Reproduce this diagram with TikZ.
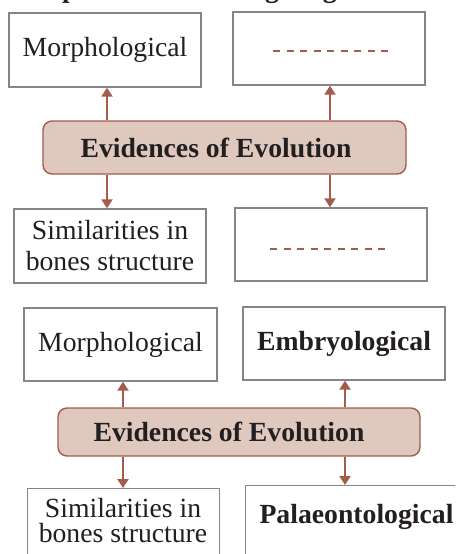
\documentclass[tikz,border=0pt]{standalone}
\usepackage{fontspec}
\setmainfont{Liberation Serif}
\usetikzlibrary{arrows.meta}
\definecolor{boxgray}{HTML}{858585}
\definecolor{rust}{HTML}{A35B4C}
\definecolor{blush}{HTML}{DFC9BF}
\definecolor{ink}{HTML}{231F20}
\tikzset{
  box/.style={draw=boxgray, line width=1.4pt, fill=white, rectangle, inner sep=0pt,
    text=ink, font=\fontsize{27.7}{31}\selectfont, align=center},
  boldbox/.style={box, font=\fontsize{27.7}{31}\selectfont\bfseries},
  evid/.style={draw=rust, line width=1.4pt, fill=blush, rounded corners=9pt,
    inner sep=0pt, text=ink, font=\fontsize{27.7}{31}\selectfont\bfseries},
  link/.style={draw=rust, line width=2.6pt, -{Triangle[length=9pt,width=11pt]}},
  blank/.style={draw=rust, line width=1.5pt, dash pattern=on 7.2pt off 6.3pt}
}
\begin{document}
\begin{tikzpicture}[x=1pt, y=-1pt]
\useasboundingbox (0,0) rectangle (455,554);
\clip (0,0) rectangle (455,554);

% heading line, mostly above the page edge
\node[anchor=base west, text=ink, inner sep=0pt,
  font=\fontsize{27.7}{31}\selectfont\bfseries] (title) at (5,-2) {Complete the following diagram};

% ---------- first diagram ----------
\node[box, minimum width=192pt, minimum height=74pt] (m1) at (105,50) {Morphological};
\node[box, minimum width=192pt, minimum height=73pt] (q1) at (329,48.5) {};
\node[evid, minimum width=363pt, minimum height=53pt] (e1) at (224.5,147.5) {Evidences of Evolution\kern17pt};
\node[box, minimum width=192pt, minimum height=74pt] (s1) at (110,246) {Similarities in\\bones structure};
\node[box, minimum width=192pt, minimum height=73pt] (q2) at (331,244.5) {};

\draw[blank] ([xshift=-56pt,yshift=-2.5pt]q1.center) -- ([xshift=61pt,yshift=-2.5pt]q1.center);
\draw[blank] ([xshift=-61pt,yshift=-4.5pt]q2.center) -- ([xshift=56pt,yshift=-4.5pt]q2.center);

\coordinate (L1) at (107,0);
\coordinate (R1) at (330,0);
\draw[link] (e1.north -| L1) -- (m1.south -| L1);
\draw[link] (e1.north -| R1) -- (q1.south -| R1);
\draw[link] (e1.south -| L1) -- (s1.north -| L1);
\draw[link] (e1.south -| R1) -- (q2.north -| R1);

% ---------- second diagram ----------
\node[box, minimum width=193pt, minimum height=73pt] (m2) at (120.5,344.5) {Morphological};
\node[boldbox, minimum width=202pt, minimum height=73pt] (em) at (344,343.5) {Embryological};
\node[evid, minimum width=362pt, minimum height=48pt] (e2) at (239,432) {Evidences of Evolution\kern20pt};
\node[box, anchor=north west, minimum width=192pt, minimum height=80pt] (s2) at (27,488) {};
\node[box, anchor=north west, minimum width=230pt, minimum height=80pt] (pa) at (245,485) {};
\node[text=ink, inner sep=0pt, align=center, font=\fontsize{27.7}{25}\selectfont] (s2t) at (123,521) {Similarities in\\bones structure};
\node[text=ink, inner sep=0pt, font=\fontsize{27.7}{31}\selectfont\bfseries] (pat) at (356.5,517) {Palaeontological};

\coordinate (L2) at (123,0);
\coordinate (R2) at (345,0);
\draw[link] (e2.north -| L2) -- (m2.south -| L2);
\draw[link] (e2.north -| R2) -- (em.south -| R2);
\draw[link] (e2.south -| L2) -- (s2.north -| L2);
\draw[link] (e2.south -| R2) -- (pa.north -| R2);
\end{tikzpicture}
\end{document}
